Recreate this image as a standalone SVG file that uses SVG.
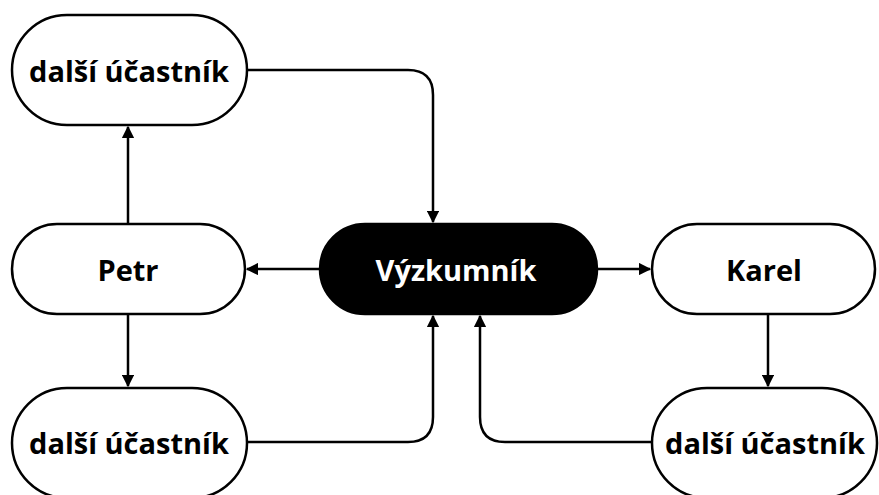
<svg xmlns="http://www.w3.org/2000/svg" width="879" height="495" viewBox="0 0 879 495">
<style>
.n{fill:#fff;stroke:#000;stroke-width:2.5}
.d{fill:#000;stroke:#000;stroke-width:2.5}
.t{font-family:"Open Sans","Noto Sans",sans-serif;font-weight:700;font-size:29px;text-anchor:middle;dominant-baseline:central;fill:#000}
.w{fill:#fff}
.e{fill:none;stroke:#000;stroke-width:2.5}
</style>
<defs>
<marker id="a" viewBox="0 0 10 10" refX="9" refY="5" markerWidth="5" markerHeight="5" orient="auto" markerUnits="strokeWidth">
<path d="M0,0L10,5L0,10z" fill="#000"/>
</marker>
</defs>
<rect width="879" height="495" fill="#fff"/>
<g id="edges">
<path class="e" marker-end="url(#a)" d="M247,70H408Q433,70 433,95V222"/>
<path class="e" marker-end="url(#a)" d="M128,224V127"/>
<path class="e" marker-end="url(#a)" d="M320,269H247"/>
<path class="e" marker-end="url(#a)" d="M597,269H650"/>
<path class="e" marker-end="url(#a)" d="M128,314V386"/>
<path class="e" marker-end="url(#a)" d="M768,314V386"/>
<path class="e" marker-end="url(#a)" d="M247,442H408Q433,442 433,417V316"/>
<path class="e" marker-end="url(#a)" d="M652,442H505Q480,442 480,417V316"/>
</g>
<g id="n1"><rect class="n" x="12" y="15" width="235" height="110" rx="55"/><text class="t" x="129" y="70">další účastník</text></g>
<g id="n2"><rect class="n" x="12" y="224" width="233" height="90" rx="45"/><text class="t" x="128" y="269">Petr</text></g>
<g id="n3"><rect class="d" x="320" y="224" width="277" height="90" rx="45"/><text class="t w" x="456" y="269">Výzkumník</text></g>
<g id="n4"><rect class="n" x="652" y="224" width="223" height="90" rx="45"/><text class="t" x="764" y="269">Karel</text></g>
<g id="n5"><rect class="n" x="12" y="388" width="235" height="110" rx="55"/><text class="t" x="129" y="442">další účastník</text></g>
<g id="n6"><rect class="n" x="652" y="388" width="225" height="110" rx="55"/><text class="t" x="765" y="442">další účastník</text></g>
</svg>
